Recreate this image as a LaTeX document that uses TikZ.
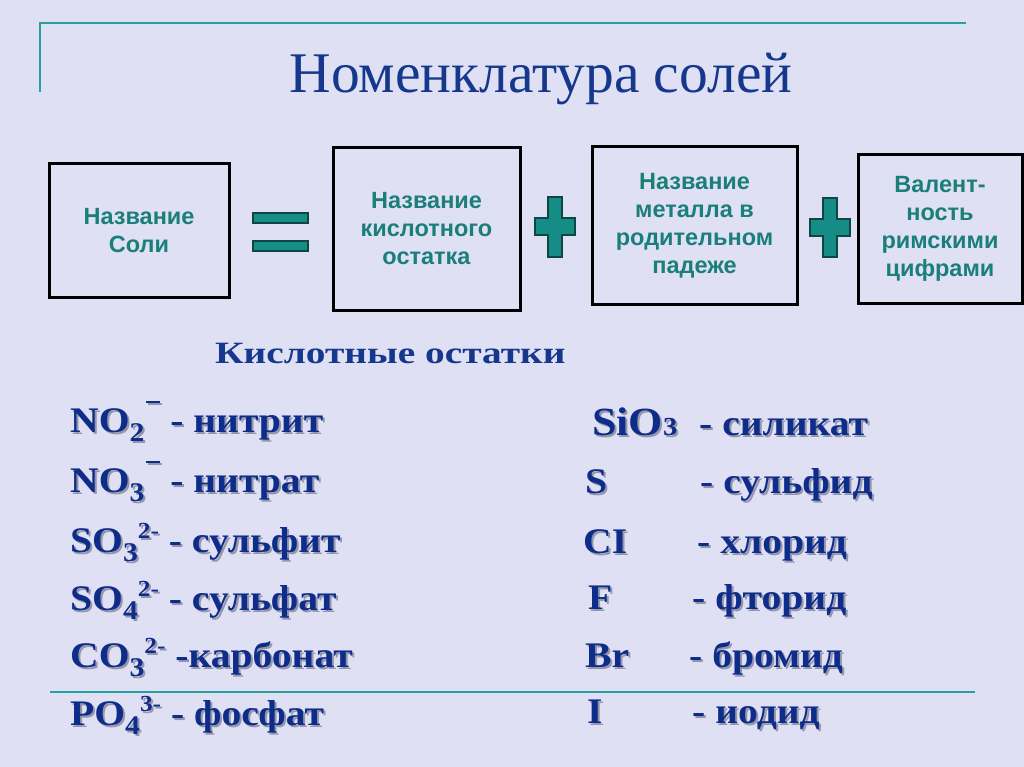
\documentclass[tikz,border=0pt]{standalone}
\usepackage{fontspec}
\setmainfont{Liberation Serif}
\newfontfamily\boxfont{Liberation Sans}
\newfontfamily\fserif[FakeStretch=1.1]{Liberation Serif}
\newfontfamily\subserif[FakeStretch=1.27]{Liberation Serif}
\definecolor{bgc}{RGB}{224,224,245}
\definecolor{tblue}{RGB}{22,56,140}
\definecolor{fblue}{RGB}{14,44,138}
\definecolor{boxteal}{RGB}{26,126,122}
\definecolor{lineteal}{RGB}{40,160,160}
\definecolor{signteal}{RGB}{22,140,134}
\definecolor{signedge}{RGB}{14,70,68}
\definecolor{shadowc}{RGB}{150,150,170}
\newcommand\lo[1]{\raisebox{-9pt}{\fontsize{27}{27}\selectfont #1}}
\newcommand\hi[1]{\raisebox{14pt}{\fontsize{23}{23}\selectfont #1}}
\newcommand\ovbar{\kern2pt\raisebox{29pt}{\rule{14pt}{2pt}}}
\newcommand\shd[1]{\rlap{\kern2pt\raisebox{-2pt}{\color{shadowc}#1}}#1}
\tikzset{
  box/.style={draw=black, line width=3pt, align=center, inner sep=0pt,
    font=\boxfont\bfseries\fontsize{23.5}{28}\selectfont, text=boxteal},
  formula/.style={anchor=base west, inner sep=0pt,
    font=\fserif\bfseries\fontsize{36}{40}\selectfont, text=fblue},
  deco/.style={draw=lineteal, line width=2pt},
  sign/.style={fill=signteal, draw=signedge, line width=1.2pt}
}
\begin{document}
\begin{tikzpicture}[x=1pt,y=-1pt]
\useasboundingbox (0,0) rectangle (1024,767);
\fill[bgc] (0,0) rectangle (1024,767);
% decorative lines
\draw[deco] (40,92) -- (40,23) -- (966,23);
\draw[deco] (50,692) -- (975,692);
% title
\node[anchor=base, inner sep=0pt, font=\fontsize{57.5}{62}\selectfont, text=tblue] (title) at (541,93) {Номенклатура солей};
% boxes
\node[box, minimum width=180pt, minimum height=133pt] (b1) at (139,230.5) {Название\\Соли};
\node[box, minimum width=187pt, minimum height=162pt] (b2) at (426.5,229) {Название\\кислотного\\остатка};
\node[box, minimum width=205pt, minimum height=157pt] (b3) at (694.5,225.5) {Название\\металла в\\родительном\\падеже};
\node[box, minimum width=164pt, minimum height=148pt] (b4) at (940,229) {Валент-\\ность\\римскими\\цифрами};
% equals
\path[sign] (253,213) rectangle (308,223);
\path[sign] (253,241) rectangle (308,251);
% plus signs
\path[sign] (548,197) -- (562,197) -- (562,218) -- (575,218) -- (575,235) -- (562,235) -- (562,257) -- (548,257) -- (548,235) -- (535,235) -- (535,218) -- (548,218) -- cycle;
\path[sign] (823,198) -- (837,198) -- (837,219) -- (850,219) -- (850,236) -- (837,236) -- (837,257) -- (823,257) -- (823,236) -- (810,236) -- (810,219) -- (823,219) -- cycle;
% subtitle
\node[anchor=base west, inner sep=0pt, font=\subserif\bfseries\fontsize{31}{34}\selectfont, text=tblue] (sub) at (215,363) {Кислотные остатки};
% left column
\node[formula] (l1) at (70,432) {\shd{NO\lo{2}\ovbar{} - нитрит}};
\node[formula] (l2) at (70,492) {\shd{NO\lo{3}\ovbar{} - нитрат}};
\node[formula] (l3) at (70,552) {\shd{SO\lo{3}\hi{2-} - сульфит}};
\node[formula] (l4) at (70,610) {\shd{SO\lo{4}\hi{2-} - сульфат}};
\node[formula] (l5) at (70,667) {\shd{CO\lo{3}\hi{2-} -карбонат}};
\node[formula] (l6) at (70,725) {\shd{PO\lo{4}\hi{3-} - фосфат}};
% right column
\node[formula] (s1) at (592,435) {\shd{{\fontsize{40}{44}\selectfont SiO}{\fontsize{26}{27}\selectfont 3}}};
\node[formula] (n1) at (699,435) {\shd{- силикат}};
\node[formula] (s2) at (585,493) {\shd{S}};
\node[formula] (n2) at (700,493) {\shd{- сульфид}};
\node[formula] (s3) at (583,553) {\shd{CI}};
\node[formula] (n3) at (697,553) {\shd{- хлорид}};
\node[formula] (s4) at (588,609) {\shd{F}};
\node[formula] (n4) at (692,609) {\shd{- фторид}};
\node[formula] (s5) at (585,667) {\shd{Br}};
\node[formula] (n5) at (689,667) {\shd{- бромид}};
\node[formula] (s6) at (587,723) {\shd{I}};
\node[formula] (n6) at (692,723) {\shd{- иодид}};
\end{tikzpicture}
\end{document}
